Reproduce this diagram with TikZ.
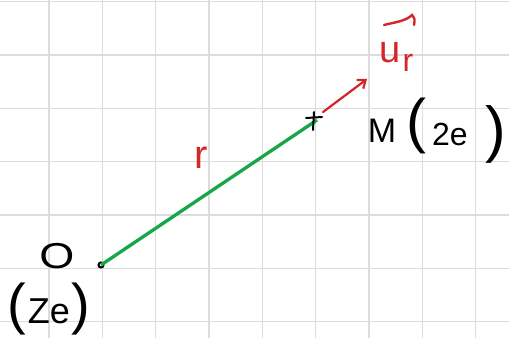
\documentclass[tikz,border=0pt]{standalone}
\usepackage{fontspec}
\setmainfont{Liberation Sans}
\usetikzlibrary{arrows.meta}
\definecolor{gridgray}{RGB}{220,220,220}
\definecolor{penred}{RGB}{212,38,40}
\definecolor{pengreen}{RGB}{22,168,72}
\newcommand{\fsz}[1]{\fontsize{#1}{#1}\selectfont}
\begin{document}
\begin{tikzpicture}[x=1pt,y=-1pt,
  gridline/.style={gridgray,line width=1.1pt},
  inkblack/.style={black,line width=2pt,line cap=round},
  label/.style={inner sep=0pt},
  redlabel/.style={label,text=penred}]
\useasboundingbox[fill=white] (0,0) rectangle (509,338);
% grid
\foreach \x in {49,102.3,155.6,209,262.3,315.6,369,422.3,475.6}
  \draw[gridline] (\x,0) -- (\x,338);
\foreach \y in {1.5,55,108.3,161.6,215,268.3,321.6}
  \draw[gridline] (0,\y) -- (509,\y);
% points
\node[circle,draw,inkblack,inner sep=0pt,minimum size=5pt] (O) at (101,265) {};
\coordinate (M) at (317,120);
\draw[pengreen,line width=3.3pt] (O.center) -- (M);
\draw[inkblack] (306,118) -- (322,117);
\draw[inkblack] (314,112) -- (313,130);
% unit vector
\coordinate (A1) at (323,112);
\coordinate (A2) at (367,79);
\draw[penred,line width=2.2pt,line cap=round,-{Straight Barb[length=7pt,width=11pt]}] (A1) -- (A2);
% labels
\node[label,font=\fsz{36},xscale=1.25] (lO) at (57,256) {O};
\node[label] (lZe) at (49,309) {{\fsz{56}(}\,{\fsz{36}Ze}\,{\fsz{56})}};
\node[label,font=\fsz{34}] (lM) at (382,131) {M};
\node[label,font=\fsz{60}] (lMp1) at (416,126) {(};
\node[label,font=\fsz{32}] (lM2e) at (450,134) {2e};
\node[label,font=\fsz{62}] (lMp2) at (496,134) {)};
\node[redlabel,font=\fsz{40}] (lr) at (201,158) {r};
\node[redlabel,font=\fsz{38}] (lu) at (390,53) {u};
\node[redlabel,font=\fsz{32}] (lur) at (408,63) {r};
\coordinate (V1) at (384,25);
\coordinate (V2) at (412,15);
\draw[penred,line width=2.4pt,line cap=round] (V1) .. controls (396,22) and (406,21) .. (V2) .. controls (415,19) .. (414,25);
\end{tikzpicture}
\end{document}
